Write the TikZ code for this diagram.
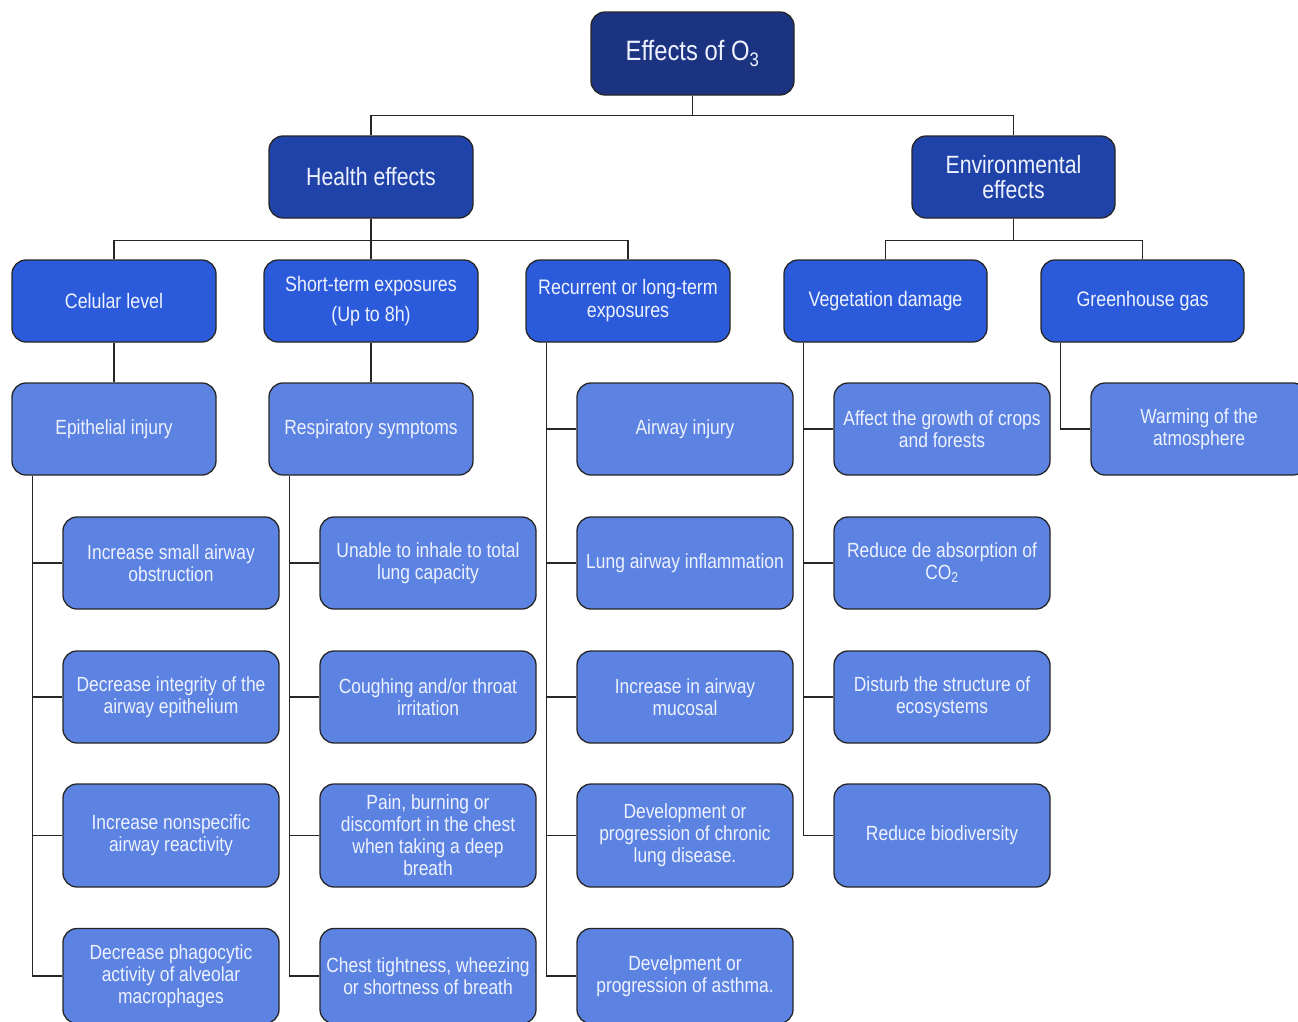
\documentclass[tikz,border=0pt]{standalone}
\usepackage{fontspec}
\setmainfont[FakeStretch=0.85]{Liberation Sans}
\definecolor{cRoot}{HTML}{1B3381}
\definecolor{cOne}{HTML}{1F43A8}
\definecolor{cTwo}{HTML}{2B5BDB}
\definecolor{cLeaf}{HTML}{5C82E2}
\definecolor{cText}{HTML}{EEF2FF}
\tikzset{
  basebox/.style={draw=black!85, line width=1.3pt, rounded corners=14pt, text=cText, align=center, inner sep=2pt},
  rootbox/.style={basebox, fill=cRoot, minimum width=203pt, minimum height=83pt, font=\fontsize{28}{30}\selectfont},
  onebox/.style={basebox, fill=cOne, minimum width=204pt, minimum height=82pt, font=\fontsize{25}{25}\selectfont},
  twobox/.style={basebox, fill=cTwo, minimum height=82pt, font=\fontsize{21}{23}\selectfont},
  leafbox/.style={basebox, fill=cLeaf, minimum width=216pt, font=\fontsize{20.5}{22}\selectfont},
  link/.style={draw=black!85, line width=1.2pt},
}
\begin{document}
\begin{tikzpicture}[x=1pt,y=-1pt]
\useasboundingbox (0,0) rectangle (1298,1021);
% root and level 1
\node[rootbox] (root) at (692.5,53.5) {Effects of O\textsubscript{3}};
\node[onebox] (health) at (371,177) {Health effects};
\node[onebox, minimum width=203pt] (env) at (1013.5,177) {Environmental\\effects};
% level 2
\node[twobox, minimum width=204pt] (cel) at (114,301) {Celular level};
\node[twobox, minimum width=214pt] (short) at (371,301) {Short-term exposures\\[7pt](Up to 8h)};
\node[twobox, minimum width=204pt] (rec) at (628,301) {Recurrent or long-term\\exposures};
\node[twobox, minimum width=203pt] (veg) at (885.5,301) {Vegetation damage};
\node[twobox, minimum width=203pt] (green) at (1142.5,301) {Greenhouse gas};
% level 3
\node[leafbox, minimum width=204pt, minimum height=92pt] (epi) at (114,429) {Epithelial injury};
\node[leafbox, minimum width=204pt, minimum height=92pt] (resp) at (371,429) {Respiratory symptoms};
\node[leafbox, minimum height=92pt] (air) at (685,429) {Airway injury};
\node[leafbox, minimum height=92pt] (crops) at (942,429) {Affect the growth of crops\\and forests};
\node[leafbox, minimum height=92pt] (warm) at (1199,429) {Warming of the\\atmosphere};
% epithelial leaves
\node[leafbox, minimum height=92pt] (e1) at (171,563) {Increase small airway\\obstruction};
\node[leafbox, minimum height=92pt] (e2) at (171,697) {Decrease integrity of the\\airway epithelium};
\node[leafbox, minimum height=103pt] (e3) at (171,835.5) {Increase nonspecific\\airway reactivity};
\node[leafbox, minimum height=95pt] (e4) at (171,976) {Decrease phagocytic\\activity of alveolar\\macrophages};
% respiratory leaves
\node[leafbox, minimum height=92pt] (r1) at (428,563) {Unable to inhale to total\\lung capacity};
\node[leafbox, minimum height=92pt] (r2) at (428,697) {Coughing and/or throat\\irritation};
\node[leafbox, minimum height=103pt] (r3) at (428,835.5) {Pain, burning or\\discomfort in the chest\\when taking a deep\\breath};
\node[leafbox, minimum height=95pt] (r4) at (428,976) {Chest tightness, wheezing\\or shortness of breath};
% recurrent leaves
\node[leafbox, minimum height=92pt] (c1) at (685,563) {Lung airway inflammation};
\node[leafbox, minimum height=92pt] (c2) at (685,697) {Increase in airway\\mucosal};
\node[leafbox, minimum height=103pt] (c3) at (685,835.5) {Development or\\progression of chronic\\lung disease.};
\node[leafbox, minimum height=95pt] (c4) at (685,976) {Develpment or\\progression of asthma.};
% vegetation leaves
\node[leafbox, minimum height=92pt] (v1) at (942,563) {Reduce de absorption of\\CO\textsubscript{2}};
\node[leafbox, minimum height=92pt] (v2) at (942,697) {Disturb the structure of\\ecosystems};
\node[leafbox, minimum height=103pt] (v3) at (942,835.5) {Reduce biodiversity};
% connectors
\draw[link] (root.south) -- ++(0,20) -| (health.north);
\draw[link] (root.south) -- ++(0,20) -| (env.north);
\draw[link] (health.south) -- ++(0,22) -| (cel.north);
\draw[link] (health.south) -- (short.north);
\draw[link] (health.south) -- ++(0,22) -| (rec.north);
\draw[link] (env.south) -- ++(0,22) -| (veg.north);
\draw[link] (env.south) -- ++(0,22) -| (green.north);
\draw[link] (cel.south) -- (epi.north);
\draw[link] (short.south) -- (resp.north);
\foreach \t in {air,c1,c2,c3,c4} \draw[link] ([xshift=21pt]rec.south west) |- (\t.west);
\foreach \t in {crops,v1,v2,v3} \draw[link] ([xshift=20pt]veg.south west) |- (\t.west);
\draw[link] ([xshift=20pt]green.south west) |- (warm.west);
\foreach \t in {e1,e2,e3,e4} \draw[link] ([xshift=21pt]epi.south west) |- (\t.west);
\foreach \t in {r1,r2,r3,r4} \draw[link] ([xshift=21pt]resp.south west) |- (\t.west);
\end{tikzpicture}
\end{document}
